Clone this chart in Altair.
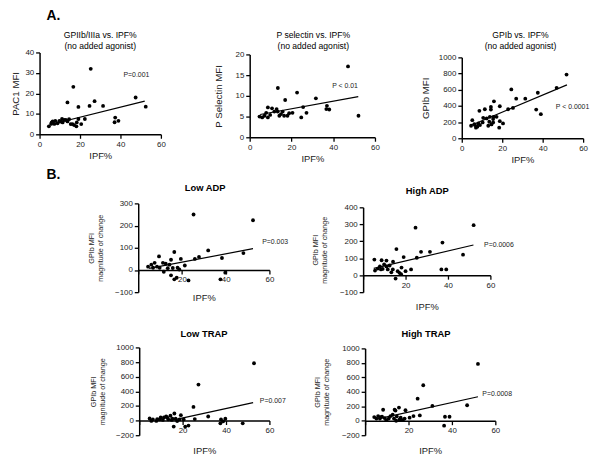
import altair as alt
import pandas as pd

FONT = "Liberation Sans"

# ---------------- data ----------------
# A1: GPIIb/IIIa vs IPF% (PAC1 MFI)
a1_ipf = [25.3, 16.7, 13.8, 19.2, 24.7, 27.2, 31.4, 37.4, 39.0, 37.1, 47.5, 52.5, 22.4, 19.2, 18.4,
          20.6, 18.2, 16.3, 15.4, 13.8, 12.2, 11.1, 13.0, 11.4, 9.8, 7.8, 6.5, 5.7, 4.6, 7.3, 8.9,
          14.6, 17.1, 6.0, 10.5]
a1_pac1 = [32.0, 23.2, 15.6, 13.4, 13.9, 16.2, 13.9, 8.2, 6.6, 5.9, 18.0, 13.5, 7.5, 7.5, 5.8,
           5.0, 3.9, 5.0, 5.0, 6.3, 7.1, 7.5, 7.1, 5.8, 6.6, 6.6, 6.3, 5.1, 3.9, 5.1, 5.4,
           7.4, 4.5, 5.8, 6.2]
a1_line_x = [5.5, 52.0]
a1_line_y = [4.8, 16.2]

# A2: P selectin vs IPF%
a2_ipf = [13.5, 22.7, 47.1, 52.1, 31.7, 17.0, 25.6, 37.0, 38.1, 36.7, 27.2, 24.7, 20.5, 18.9, 18.1,
          15.8, 15.0, 14.2, 12.9, 11.8, 10.7, 8.7, 7.9, 7.1, 6.0, 4.7, 8.7, 9.8, 13.4, 16.5]
a2_psel = [11.9, 10.8, 17.1, 5.2, 9.4, 9.0, 7.3, 7.6, 6.7, 6.8, 5.9, 4.8, 5.9, 5.8, 5.2,
           6.2, 5.6, 5.2, 6.8, 6.2, 7.0, 7.2, 5.9, 5.2, 4.8, 5.0, 4.8, 5.4, 6.2, 5.2]
a2_line_x = [5.0, 52.0]
a2_line_y = [5.5, 9.8]

# A3: GPIb vs IPF%
a3_ipf = [51.8, 46.9, 37.6, 36.8, 39.1, 31.4, 26.9, 24.5, 25.3, 22.9, 18.8, 15.9, 14.4, 14.4, 11.4,
          8.7, 15.7, 17.2, 13.9, 12.3, 15.5, 18.8, 20.4, 18.5, 13.1, 14.7, 15.5, 10.3, 10.6, 9.0,
          6.5, 5.2, 4.6, 7.0, 7.7, 6.2, 8.2, 13.6]
a3_gpib = [787, 624, 563, 355, 298, 490, 490, 604, 375, 359, 396, 457, 388, 355, 359,
           339, 265, 265, 265, 245, 237, 212, 184, 131, 155, 171, 196, 196, 253, 163,
           163, 224, 155, 131, 143, 175, 184, 204]
a3_line_x = [5.0, 52.0]
a3_line_y = [165, 660]

# B1: Low ADP
b1_ipf = [25.3, 52.5, 48.1, 38.3, 32.0, 27.8, 25.9, 19.5, 21.3, 16.5, 9.5, 18.8, 15.0, 16.5, 17.6,
          23.0, 37.6, 39.8, 15.0, 14.3, 12.6, 11.3, 11.7, 6.0, 4.5, 6.8, 7.5, 8.6, 9.8, 13.5,
          15.8, 18.0]
b1_chg = [250, 224, 76, 54, 88, 59, 50, 50, 20, 81, 61, 2, -24, -42, -35,
          -47, -42, -12, 46, 24, 28, 32, -8, 24, 15, 10, 32, 15, 10, 8,
          9, 10]
b1_line_x = [5.0, 52.5]
b1_line_y = [7, 96]

# B2: High ADP
b2_ipf = [52.1, 24.7, 37.4, 47.1, 27.3, 31.5, 25.3, 19.1, 15.7, 5.3, 8.7, 11.0, 14.1, 36.9, 39.2,
          22.6, 20.0, 18.1, 15.3, 16.3, 14.0, 12.5, 11.0, 9.9, 7.9, 6.9, 5.6, 8.4, 9.2, 13.3,
          17.1, 17.9, 11.6]
b2_chg = [295, 280, 192, 121, 138, 138, 103, 107, 154, 92, 88, 86, 80, 34, 34,
          34, 24, 45, -20, 24, 34, 57, 52, 63, 52, 39, 27, 34, 37, 17,
          14, 6, 34]
b2_line_x = [5.0, 52.0]
b2_line_y = [40, 178]

# B3: Low TRAP
b3_ipf = [52.9, 27.3, 25.0, 31.8, 25.6, 37.7, 39.7, 38.7, 37.4, 47.7, 22.7, 21.2, 15.9, 16.2, 14.4,
          12.4, 11.4, 9.9, 19.2, 18.6, 20.5, 17.5, 16.8, 15.3, 13.4, 8.3, 6.3, 4.8, 5.6, 7.9,
          9.4, 10.9, 12.9, 15.0]
b3_chg = [784, 492, 187, 56, 20, 16, 25, -10, -38, -38, -69, -82, -82, 97, 66,
          56, 43, 43, 74, 16, 16, -7, 25, 25, 16, 20, 16, 30, -5, -5,
          16, 9, 43, 9]
b3_line_x = [16.0, 52.5]
b3_line_y = [10, 245]

# B4: High TRAP
b4_ipf = [52.0, 26.8, 24.2, 47.0, 31.0, 15.6, 13.6, 14.0, 8.3, 18.6, 25.2, 22.3, 20.5, 18.2, 36.8,
          38.9, 36.4, 12.7, 11.7, 14.6, 16.4, 10.9, 4.2, 6.0, 6.8, 7.8, 9.0, 9.8, 5.2, 7.2,
          13.3, 15.8, 17.3, 14.3]
b4_chg = [786, 491, 305, 214, 205, 182, 152, 140, 152, 145, 73, 64, 42, 30, 55,
          55, -68, 83, 64, 60, 42, 30, 50, 64, 30, 55, 37, 8, 30, 50,
          30, 15, 8, 0]
b4_line_x = [8.0, 52.0]
b4_line_y = [40, 332]

y_title_b = ["GPIb MFI", "magnitude of change"]

W, H = 592, 447  # whole drawing, in pixels


def make_panel(xs, ys, lx, ly, ydom, yvals, xr, yr, ytitle, ytitle_size, ytitle_pad,
               pval, px, py, bottom, xtitle_pad):
    pts = pd.DataFrame({"x": xs, "y": ys})
    ln = pd.DataFrame({"x": lx, "y": ly})
    xscale = alt.Scale(domain=[0, 60], range=xr, nice=False, zero=False)
    yscale = alt.Scale(domain=ydom, range=yr, nice=False, zero=False)
    if bottom:
        zero_px = yr[0] + (yr[1] - yr[0]) * (0 - ydom[0]) / (ydom[1] - ydom[0])
        xaxis = alt.Axis(orient="bottom", offset=-(H - zero_px), values=[0, 20, 40, 60],
                         labelExpr="datum.value == 0 ? '' : datum.label",
                         title="IPF%", titlePadding=xtitle_pad, titleFontSize=9.5)
    else:
        xaxis = alt.Axis(orient="bottom", offset=-(H - yr[0]), values=[0, 20, 40, 60],
                         title="IPF%", titlePadding=xtitle_pad, titleFontSize=9.5)
    yaxis = alt.Axis(orient="left", offset=-xr[0], values=yvals, format="d",
                     title=ytitle, titlePadding=ytitle_pad, titleFontSize=ytitle_size)
    X = alt.X("x:Q", scale=xscale, axis=xaxis)
    Y = alt.Y("y:Q", scale=yscale, axis=yaxis)
    points = alt.Chart(pts).mark_circle(size=15, color="black", opacity=1).encode(x=X, y=Y)
    line = alt.Chart(ln).mark_line(color="black", strokeWidth=1.2).encode(x=X, y=Y)
    ptxt = alt.Chart(pd.DataFrame({"x": [px], "y": [py], "t": [pval]})).mark_text(
        align="left", baseline="middle", fontSize=7, font=FONT, color="#222"
    ).encode(x=X, y=Y, text="t:N")
    return alt.layer(points, line, ptxt)


def label(text, x, y, size, weight="normal", align="center", baseline="top"):
    return alt.Chart(pd.DataFrame({"t": [text]})).mark_text(
        align=align, baseline=baseline, fontSize=size, fontWeight=weight, font=FONT,
        color="black", lineBreak="\n", lineHeight=11.5
    ).encode(x=alt.value(x), y=alt.value(y), text="t:N")


p1 = make_panel(a1_ipf, a1_pac1, a1_line_x, a1_line_y, [0, 40], [0, 10, 20, 30, 40],
                [32, 155], [125, 42], "PAC1 MFI", 9.8, 4, "P=0.001", 41.5, 29, False, 3)
p2 = make_panel(a2_ipf, a2_psel, a2_line_x, a2_line_y, [0, 20], [0, 5, 10, 15, 20],
                [245, 372], [128, 44], "P Selectin MFI", 9.8, 12, "P < 0.01", 39.5, 12.4, False, 3)
p3 = make_panel(a3_ipf, a3_gpib, a3_line_x, a3_line_y, [0, 1000], [0, 200, 400, 600, 800, 1000],
                [460, 583], [129, 47], "GPIb MFI", 9.8, 8, "P < 0.0001", 46.5, 382, False, 3)
p4 = make_panel(b1_ipf, b1_chg, b1_line_x, b1_line_y, [-100, 300], [-100, 0, 100, 200, 300],
                [132, 265], [285, 195], y_title_b, 7.3, 10, "P=0.003", 56.7, 124, True, 9)
p5 = make_panel(b2_ipf, b2_chg, b2_line_x, b2_line_y, [-100, 400], [-100, 0, 100, 200, 300, 400],
                [360, 489], [285, 199], y_title_b, 7.3, 11, "P=0.0006", 57, 179, True, 13)
p6 = make_panel(b3_ipf, b3_chg, b3_line_x, b3_line_y, [-200, 1000],
                [-200, 0, 200, 400, 600, 800, 1000],
                [133, 265], [430, 341], y_title_b, 7.3, 9, "P=0.007", 55.6, 268, True, 11)
p7 = make_panel(b4_ipf, b4_chg, b4_line_x, b4_line_y, [-200, 1000],
                [-200, 0, 200, 400, 600, 800, 1000],
                [362, 494], [430, 342], y_title_b, 7.3, 11, "P=0.0008", 54, 373, True, 11)

annotations = [
    label("A.", 39, 9, 14, "bold", "left", "alphabetic"),
    label("B.", 39, 170, 14, "bold", "left", "alphabetic"),
    label("GPIIb/IIIa vs. IPF%\n(no added agonist)", 93.5, 20.5, 8.7),
    label("P selectin vs. IPF%\n(no added agonist)", 309.5, 20.5, 8.7),
    label("GPIb vs. IPF%\n(no added agonist)", 519.5, 20.5, 8.7),
    label("Low ADP", 199.8, 179, 9.5, "bold", "center", "middle"),
    label("High ADP", 425, 182.7, 9.5, "bold", "center", "middle"),
    label("Low TRAP", 198.7, 327, 9.5, "bold", "center", "middle"),
    label("High TRAP", 423.7, 327, 9.5, "bold", "center", "middle"),
]

chart = alt.layer(p1, p2, p3, p4, p5, p6, p7, *annotations).resolve_scale(
    x="independent", y="independent"
).resolve_axis(
    x="independent", y="independent"
).properties(
    width=W, height=H, padding=0, autosize=alt.AutoSizeParams(type="none")
).configure_axis(
    grid=False,
    domainColor="black",
    domainWidth=1.5,
    tickColor="black",
    tickWidth=1.3,
    tickSize=4,
    labelFont=FONT,
    labelFontSize=8,
    labelColor="#222",
    labelPadding=2,
    labelFlush=False,
    labelOverlap=False,
    titleFont=FONT,
    titleFontWeight="normal",
    titleColor="#222",
).configure_view(stroke=None)

chart.save("out.html", embed_options={"renderer": "svg", "actions": False})
